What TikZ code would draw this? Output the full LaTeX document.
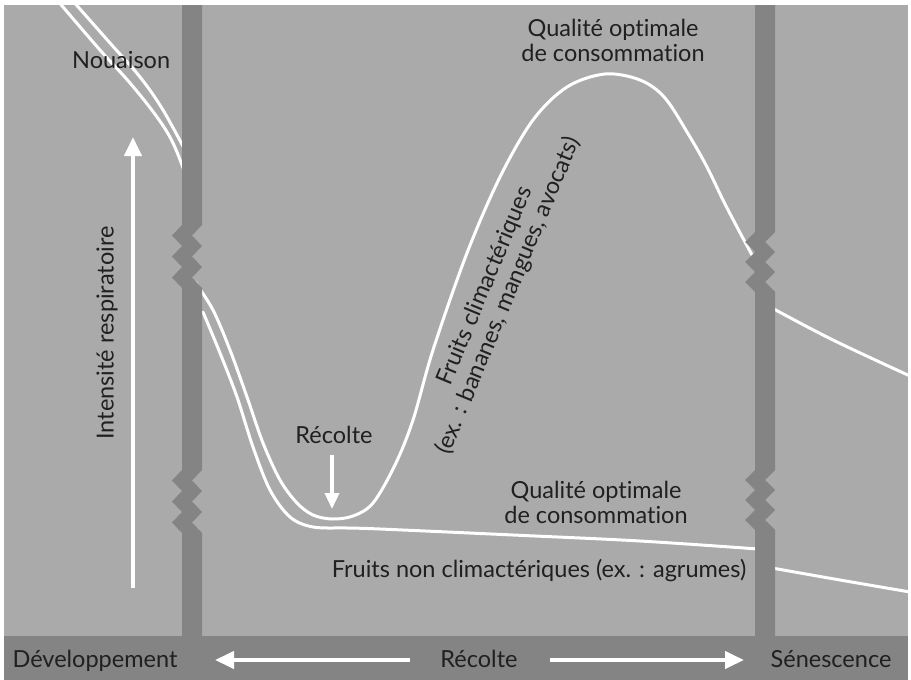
\documentclass[tikz,border=0pt]{standalone}
\usepackage{fontspec}
\setmainfont{Lato}[Ligatures={NoCommon}]
\usetikzlibrary{arrows.meta}
\definecolor{bgc}{RGB}{170,170,170}
\definecolor{barc}{RGB}{132,132,132}
\definecolor{txt}{RGB}{32,32,32}
\begin{document}
\begin{tikzpicture}[x=1pt,y=-1pt,
 lbl/.style={inner sep=0pt, text=txt, font=\fontsize{23.5}{25}\selectfont},
 curve/.style={white, line width=3pt, line cap=round},
 warrow/.style={white, line width=4pt, -{Triangle[width=17pt,length=19pt]}},
 sarrow/.style={white, line width=3.5pt, -{Triangle[width=14pt,length=16pt]}},
]
\useasboundingbox (0,0) rectangle (911,680);
\fill[white] (0,0) rectangle (911,680);
\fill[bgc] (4,5) rectangle (908,680);
\begin{scope}
\clip (4,5) rectangle (908,636);
% double lines before development bar
\draw[curve] plot[smooth, tension=0.6] coordinates {(72,0) (110,43) (140,77) (163,110) (186,152)};
\draw[curve] plot[smooth, tension=0.6] coordinates {(57,0) (100,50) (130,83) (157,117) (173,143) (186,176)};
% climacteric
\draw[curve] plot[smooth, tension=0.55] coordinates {(195,282) (213,310) (230,350) (247,397) (263,443) (280,480) (297,503) (313,515) (332,519) (353,516) (373,503) (395,465) (413,420) (433,350) (467,253) (500,177) (533,120) (567,87) (605,74) (640,80) (665,98) (690,137) (707,167) (723,200) (737,227) (752,255)};
\draw[curve] plot[smooth, tension=0.6] coordinates {(772,308) (833,340) (910,376)};
% non climacteric
\draw[curve] plot[smooth, tension=0.55] coordinates {(203,312) (220,353) (237,397) (253,447) (270,490) (290,517) (313,527) (347,528) (380,529) (513,535) (640,541) (758,549)};
\draw[curve] plot[smooth, tension=0.6] coordinates {(772,568) (840,580) (910,592)};
\end{scope}
% bars
\fill[barc] (182,5) -- (182,225) -- (172,235.5) -- (182,246) -- (172,256.5) -- (182,267) -- (172,277.5) -- (182,288)
 -- (182,470) -- (172,480.5) -- (182,491) -- (172,501.5) -- (182,512) -- (172,522.5) -- (182,533) -- (182,640)
 -- (202,640) -- (202,533) -- (192,522.5) -- (202,512) -- (192,501.5) -- (202,491) -- (192,480.5) -- (202,470)
 -- (202,288) -- (192,277.5) -- (202,267) -- (192,256.5) -- (202,246) -- (192,235.5) -- (202,225) -- (202,5) -- cycle;
\fill[barc] (755,5) -- (755,232) -- (745,242) -- (755,252) -- (745,262) -- (755,272) -- (745,282) -- (755,292)
 -- (755,470) -- (745,480) -- (755,490) -- (745,500) -- (755,510) -- (745,520) -- (755,530) -- (755,640)
 -- (775,640) -- (775,530) -- (765,520) -- (775,510) -- (765,500) -- (775,490) -- (765,480) -- (775,470)
 -- (775,292) -- (765,282) -- (775,272) -- (765,262) -- (775,252) -- (765,242) -- (775,232) -- (775,5) -- cycle;
% bottom band
\fill[barc] (4,636) rectangle (908,680);
% texts
\node[lbl, anchor=base west] (nou) at (72,68) {Nouaison};
\node[lbl, rotate=90] (int) at (107,333) {Intensité respiratoire};
\coordinate (ia0) at (133,588);
\coordinate (ia1) at (133,137);
\draw[warrow] (ia0) -- (ia1);
\node[lbl, align=center] (q1) at (613,40) {Qualité optimale\\de consommation};
\node[lbl, align=center] (q2) at (596,502) {Qualité optimale\\de consommation};
\node[lbl, anchor=base] (rec) at (334,443) {Récolte};
\coordinate (ra0) at (332,455);
\coordinate (ra1) at (332,509);
\draw[sarrow] (ra0) -- (ra1);
\node[lbl, align=center, rotate=67.5] (clim) at (497,291) {Fruits climactériques\\(ex. : bananes, mangues, avocats)};
\node[lbl, anchor=base] (nclim) at (539,577) {Fruits non climactériques (ex. : agrumes)};
\node[lbl, anchor=base] (dev) at (95,667) {Développement};
\node[lbl, anchor=base] (brec) at (479,667) {Récolte};
\node[lbl, anchor=base] (sen) at (831,667) {Sénescence};
\coordinate (la0) at (410,660);
\coordinate (la1) at (215,660);
\coordinate (rb0) at (550,660);
\coordinate (rb1) at (744,660);
\draw[warrow] (la0) -- (la1);
\draw[warrow] (rb0) -- (rb1);
\end{tikzpicture}
\end{document}
